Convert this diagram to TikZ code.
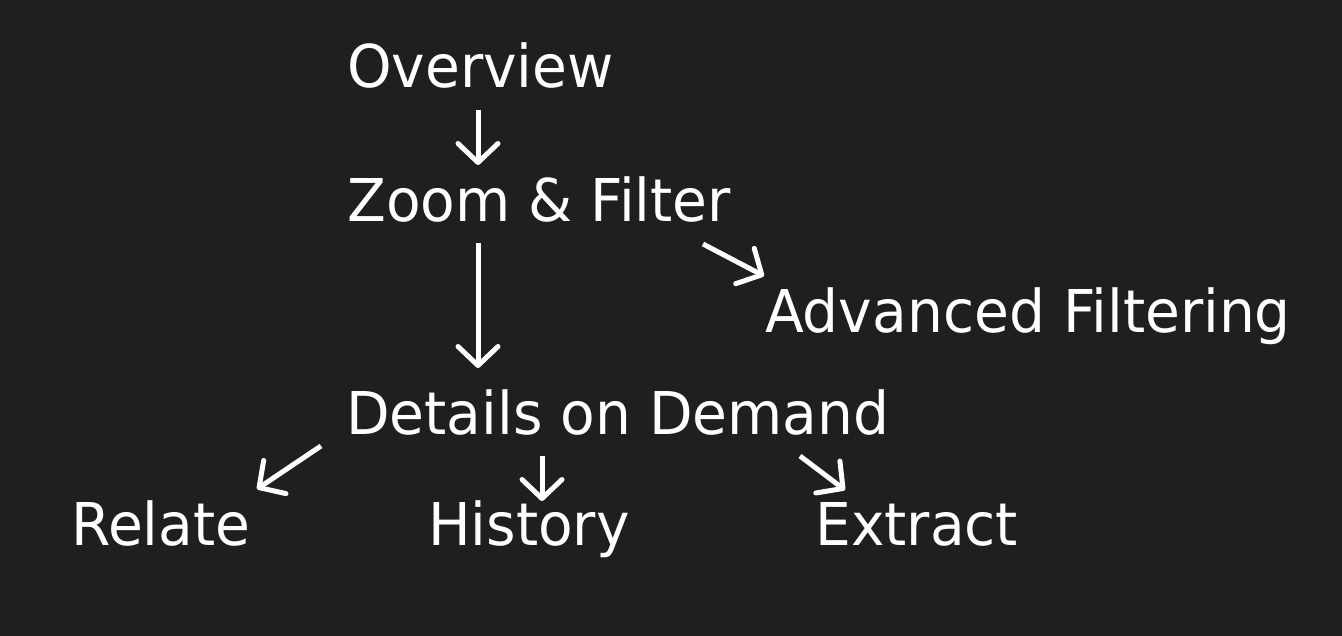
\documentclass[tikz,border=0pt]{standalone}
\usepackage{fontspec}
\setmainfont[FakeStretch=0.96]{DejaVu Sans}
\usetikzlibrary{arrows.meta}
\definecolor{bgdark}{HTML}{1F1F1F}

\begin{document}
\begin{tikzpicture}[x=1pt,y=-1pt,
    stage/.style={anchor=base west,inner sep=0pt,text=white,font=\fontsize{59}{70}\selectfont},
    flow/.style={draw=white,line width=5pt,-{Straight Barb[length=19pt,width=40pt,round]}}]
    \fill [bgdark] (0,0) rectangle (1342,636);
    % stages
    \node[stage] (ov) at (347,88) {Overview};
    \node[stage] (zf) at (347,222) {Zoom \& Filter};
    \node[stage] (af) at (765,333) {Advanced Filtering};
    \node[stage] (dd) at (346,435) {Details on Demand};
    \node[stage] (re) at (71,545) {Relate};
    \node[stage] (hi) at (428,545) {History};
    \node[stage] (ex) at (815,545) {Extract};
    % arrows
    \draw[flow] ([xshift=131pt,yshift=-22pt]ov.base west) -- ([xshift=131pt,yshift=57pt]zf.base west);
    \draw[flow] ([xshift=131pt,yshift=-21pt]zf.base west) -- ([xshift=132pt,yshift=67pt]dd.base west);
    \draw[flow] ([xshift=356pt,yshift=-22pt]zf.base west) -- ([xshift=-1pt,yshift=57pt]af.base west);
    \draw[flow] ([xshift=-25pt,yshift=-11pt]dd.base west) -- ([xshift=186pt,yshift=56pt]re.base west);
    \draw[flow] ([xshift=196pt,yshift=-21pt]dd.base west) -- ([xshift=114pt,yshift=44pt]hi.base west);
    \draw[flow] ([xshift=454pt,yshift=-21pt]dd.base west) -- ([xshift=30pt,yshift=55pt]ex.base west);
\end{tikzpicture}
\end{document}
